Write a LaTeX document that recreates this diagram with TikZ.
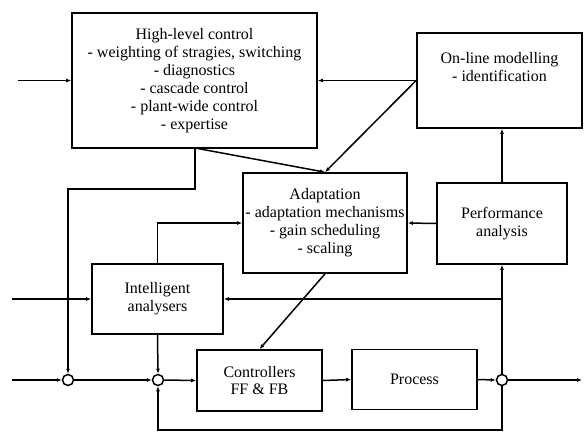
\documentclass[tikz,border=0pt]{standalone}
\usepackage{fontspec}
\setmainfont{Liberation Serif}
\usetikzlibrary{arrows.meta, calc}

\tikzset{
  blockbox/.style = {draw, line width=1.7pt, align=center, inner sep=2pt},
  sumpoint/.style = {draw, circle, line width=1.5pt, fill=white, minimum size=11pt, inner sep=0pt},
  link/.style = {line width=1.5pt, -{Latex[length=5pt,width=4pt]}},
  wire/.style = {line width=1.5pt}
}

\begin{document}
\begin{tikzpicture}[x=1pt, y=-1pt, font=\fontsize{16}{17.9}\selectfont]
\useasboundingbox (0,0) rectangle (585,432);

% blocks
\node[blockbox, minimum width=245pt, minimum height=135pt] (hlc) at (194.5,80.5)
  {High-level control\\- weighting of stragies, switching\\- diagnostics\\- cascade control\\- plant-wide control\\- expertise};
\node[blockbox, minimum width=165pt, minimum height=95pt,
  label={[anchor=north, yshift=-17pt, align=center]north:{On-line modelling\\- identification}}] (olm) at (499.5,80.5) {};
\node[blockbox, minimum width=164pt, minimum height=100pt] (adapt) at (325,223)
  {Adaptation\\- adaptation mechanisms\\- gain scheduling\\- scaling};
\node[blockbox, minimum width=130pt, minimum height=81pt] (perf) at (502,223.5)
  {Performance\\analysis};
\node[blockbox, minimum width=131pt, minimum height=70pt] (ia) at (157.5,299)
  {Intelligent\\analysers};
\node[blockbox, minimum width=125pt, minimum height=61pt] (ctrl) at (259.5,380.5)
  {Controllers\\FF \& FB};
\node[blockbox, minimum width=125pt, minimum height=60pt] (proc) at (414.5,379.5)
  {Process};

% summing points
\node[sumpoint] (s1) at (68,380) {};
\node[sumpoint] (s2) at (158,380) {};
\node[sumpoint] (s3) at (502,380) {};

% free ends
\coordinate (in1) at (18,80.5);
\coordinate (in2) at (12,299);
\coordinate (in3) at (12,380);
\coordinate (out) at (582,380);
\coordinate (fb) at (330,430);
\coordinate (hlcb) at (195,148);
\coordinate (knee) at (195,189);

% upper level
\draw[link] (in1) -- (hlc.west);
\draw[link] (olm.west) -- (hlc.east);
\draw[link] (olm.west) -- (adapt.north);
\draw[link] (hlcb) -- (adapt.north);
\draw[link] (hlcb) -- (knee) -| (s1.north);
\draw[link] (perf.north) -- (perf.north |- olm.south);
\draw[link] (perf.west) -- (adapt.east);
\draw[link] (ia.north) |- (adapt.west);
\draw[link] (adapt.south) -- (ctrl.north);

% main loop
\draw[link] (in2) -- (ia.west);
\draw[link] (in3) -- (s1.west);
\draw[link] (s1.east) -- (s2.west);
\draw[link] (s2.east) -- (ctrl.west);
\draw[link] (ctrl.east) -- (proc.west);
\draw[link] (proc.east) -- (s3.west);
\draw[link] (s3.east) -- (out);
\draw[link] (ia.south) -- (s2.north);
\draw[link] (s3.north) -- (perf.south);
\draw[link] (s3 |- ia.east) -- (ia.east);
\draw[link] (s3.south) -- (s3 |- fb) -| (s2.south);

\end{tikzpicture}
\end{document}
